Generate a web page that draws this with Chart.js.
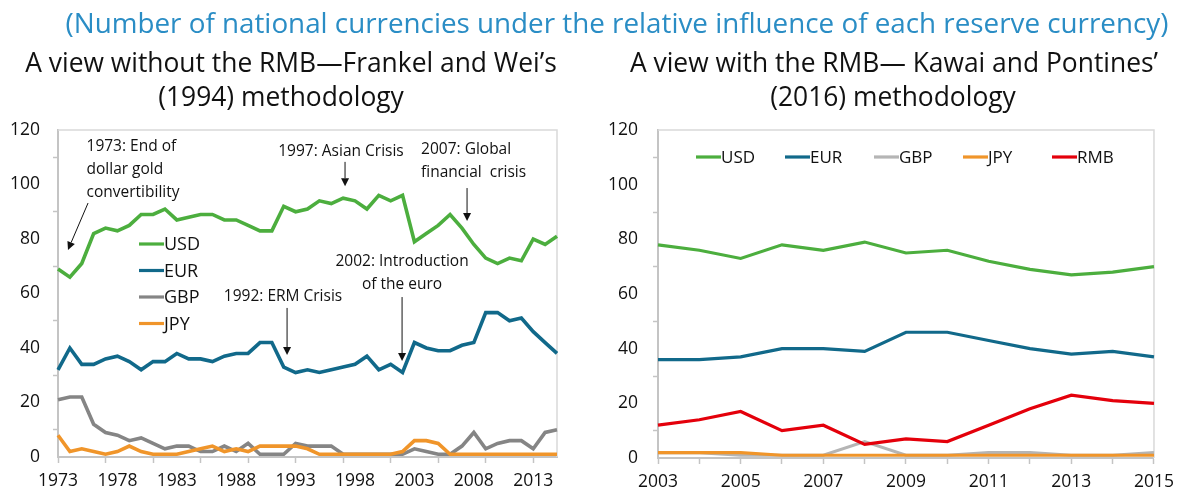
<!DOCTYPE html>
<html>
<head>
<meta charset="utf-8">
<script src="https://cdn.jsdelivr.net/npm/chart.js@4.4.1/dist/chart.umd.min.js"></script>
<style>
  body { margin: 0; width: 1182px; height: 495px; overflow: hidden; background: #fff; position: relative; font-family: "Open Sans", sans-serif; }
  .txt { position: absolute; white-space: nowrap; transform: translate(-50%, -50%); }
  #subtitle { left: 617px; top: 22px; font-size: 27.8px; color: #2a8dc5; }
  .ptitle { font-size: 26.4px; color: #111; }
  canvas { position: absolute; top: 0; }
</style>
</head>
<body>
<canvas id="leftChart" width="590" height="495" style="left:0"></canvas>
<canvas id="rightChart" width="592" height="495" style="left:590px"></canvas>
<div id="subtitle" class="txt">(Number of national currencies under the relative influence of each reserve currency)</div>
<div class="txt ptitle" style="left:291px; top:62px">A view without the RMB—Frankel and Wei’s</div>
<div class="txt ptitle" style="left:281px; top:96px">(1994) methodology</div>
<div class="txt ptitle" style="left:894px; top:62px">A view with the RMB— Kawai and Pontines’</div>
<div class="txt ptitle" style="left:893px; top:96px">(2016) methodology</div>
<script>
// Left panel: Frankel and Wei (1994), 1973-2015
const yearsA = ["1973","1974","1975","1976","1977","1978","1979","1980","1981","1982",
  "1983","1984","1985","1986","1987","1988","1989","1990","1991","1992",
  "1993","1994","1995","1996","1997","1998","1999","2000","2001","2002",
  "2003","2004","2005","2006","2007","2008","2009","2010","2011","2012",
  "2013","2014","2015"];
const usdA = [69,66,71,82,84,83,85,89,89,91,87,88,89,89,87,87,85,83,83,92,90,
  91,94,93,95,94,91,96,94,96,79,82,85,89,84,78,73,71,73,72,80,78,81];
const eurA = [32,40,34,34,36,37,35,32,35,35,38,36,36,35,37,38,38,42,42,33,31,
  32,31,32,33,34,37,32,34,31,42,40,39,39,41,42,53,53,50,51,46,42,38];
const gbpA = [21,22,22,12,9,8,6,7,5,3,4,4,2,2,4,2,5,1,1,1,5,
  4,4,4,1,1,1,1,1,1,3,2,1,1,4,9,3,5,6,6,3,9,10];
const jpyA = [8,2,3,2,1,2,4,2,1,1,1,2,3,4,2,3,2,4,4,4,4,
  3,1,1,1,1,1,1,1,2,6,6,5,1,1,1,1,1,1,1,1,1,1];

// Right panel: Kawai and Pontines (2016), 2003-2015
const yearsB = ["2003","2004","2005","2006","2007","2008","2009","2010","2011","2012","2013","2014","2015"];
const usdB = [78,76,73,78,76,79,75,76,72,69,67,68,70];
const eurB = [36,36,37,40,40,39,46,46,43,40,38,39,37];
const gbpB = [2,2,1,1,1,6,1,1,2,2,1,1,2];
const jpyB = [2,2,2,1,1,1,1,1,1,1,1,1,1];
const rmbB = [12,14,17,10,12,5,7,6,12,18,23,21,20];

const yTicks = [0, 20, 40, 60, 80, 100, 120];

// annotations on the left panel, anchored in data units (year, value)
const notesA = [
  { lines: ["1973: End of", "dollar gold", "convertibility"], at: [1975.4, 113.8], align: "left", from: [1975.53, 93.2], to: [1973.84, 76.0] },
  { lines: ["1997: Asian Crisis"], at: [1996.82, 111.9], align: "center", from: [1997.16, 108.3], to: [1997.16, 99.4] },
  { lines: ["2007: Global", "financial  crisis"], at: [2003.56, 112.7], align: "left", from: [2007.43, 98.7], to: [2007.43, 86.6] },
  { lines: ["2002: Introduction", "of the euro"], at: [2001.96, 71.6], align: "center", from: [2001.96, 58.7], to: [2001.96, 35.2] },
  { lines: ["1992: ERM Crisis"], at: [1991.94, 58.7], align: "center", from: [1992.28, 54.7], to: [1992.28, 37.4] }
];

const GREEN = "#4cae3e", BLUE = "#11698a", GREY = "#858585", LIGHTGREY = "#b5b5b5", ORANGE = "#f0952a", RED = "#e4000b";
const FONT = '"Open Sans", sans-serif';

function series(label, data, color, width, order) {
  return { label: label, data: data, borderColor: color, backgroundColor: color, borderWidth: width,
    pointRadius: 0, pointHoverRadius: 0, tension: 0, fill: false, order: order };
}

// gray frame on top and right of the plot area
const framePlugin = {
  id: "frame",
  beforeDatasetsDraw(chart) {
    const a = chart.chartArea, c = chart.ctx;
    c.save();
    c.strokeStyle = "#d9d9d9";
    c.lineWidth = 1.5;
    c.beginPath();
    c.moveTo(a.left, a.top);
    c.lineTo(a.right, a.top);
    c.lineTo(a.right, a.bottom);
    c.stroke();
    c.restore();
  }
};

function legendPlugin(layout) {
  return {
    id: "customLegend",
    afterDatasetsDraw(chart) {
      const c = chart.ctx, a = chart.chartArea;
      c.save();
      c.font = layout.size + "px " + FONT;
      c.textBaseline = "middle";
      chart.data.datasets.forEach(function(ds, i) {
        const x = a.left + layout.x + (layout.horizontal ? i * layout.step : 0);
        const y = a.top + layout.y + (layout.horizontal ? 0 : i * layout.step);
        c.strokeStyle = ds.borderColor;
        c.lineWidth = 3.2;
        c.beginPath();
        c.moveTo(x, y);
        c.lineTo(x + 25, y);
        c.stroke();
        c.fillStyle = "#111";
        c.fillText(ds.label, x + 25, y + 1);
      });
      c.restore();
    }
  };
}

function drawArrow(c, x1, y1, x2, y2) {
  const ang = Math.atan2(y2 - y1, x2 - x1), len = 8, half = 4;
  c.beginPath();
  c.moveTo(x1, y1);
  c.lineTo(x2 - Math.cos(ang) * len, y2 - Math.sin(ang) * len);
  c.stroke();
  c.beginPath();
  c.moveTo(x2, y2);
  c.lineTo(x2 - Math.cos(ang) * len + Math.sin(ang) * half, y2 - Math.sin(ang) * len - Math.cos(ang) * half);
  c.lineTo(x2 - Math.cos(ang) * len - Math.sin(ang) * half, y2 - Math.sin(ang) * len + Math.cos(ang) * half);
  c.closePath();
  c.fill();
}

const notesPlugin = {
  id: "notes",
  afterDatasetsDraw(chart) {
    const c = chart.ctx, xs = chart.scales.x, ys = chart.scales.y;
    const first = parseInt(chart.data.labels[0], 10);
    const px = function(yr) { return xs.getPixelForValue(yr - first); };
    c.save();
    c.font = "15.5px " + FONT;
    c.fillStyle = "#111";
    c.strokeStyle = "#111";
    c.lineWidth = 1;
    c.textBaseline = "middle";
    notesA.forEach(function(n) {
      c.textAlign = n.align;
      n.lines.forEach(function(t, i) {
        c.fillText(t, px(n.at[0]), ys.getPixelForValue(n.at[1]) + i * 23);
      });
      drawArrow(c, px(n.from[0]), ys.getPixelForValue(n.from[1]), px(n.to[0]), ys.getPixelForValue(n.to[1]));
    });
    c.restore();
  }
};

function makeOptions(yWidth, xHeight, padRight, labelPad, xLabelEvery, xTickEvery) {
  return {
    responsive: false,
    animation: false,
    devicePixelRatio: 1,
    layout: { padding: { top: 130, right: padRight, left: 0, bottom: 0 } },
    plugins: { legend: { display: false }, tooltip: { enabled: false } },
    scales: {
      x: {
        type: "category",
        offset: false,
        afterFit(scale) { scale.height = xHeight; },
        border: { color: "#c4c4c4", width: 2 },
        grid: {
          drawOnChartArea: false, drawTicks: true, tickLength: 6, tickWidth: 1.5,
          tickColor: function(ctx) { return ctx.index % xTickEvery === 0 ? "#c4c4c4" : "rgba(0,0,0,0)"; }
        },
        ticks: {
          autoSkip: false, maxRotation: 0, minRotation: 0, padding: 8,
          color: "#111", font: { family: FONT, size: 17.5 },
          callback: function(v, i) { return i % xLabelEvery === 0 ? this.getLabelForValue(v) : ""; }
        }
      },
      y: {
        min: 0, max: 120,
        afterFit(scale) { scale.width = yWidth; },
        afterBuildTicks(scale) {
          scale.ticks = [];
          for (let v = 0; v <= 120; v += 10) scale.ticks.push({ value: v });
        },
        border: { color: "#c4c4c4", width: 2 },
        grid: {
          drawOnChartArea: false, drawTicks: true, tickLength: 5, tickWidth: 1.5,
          tickColor: function(ctx) { return ctx.tick && yTicks.indexOf(ctx.tick.value) < 0 ? "#c4c4c4" : "rgba(0,0,0,0)"; }
        },
        ticks: {
          padding: labelPad, color: "#111", font: { family: FONT, size: 17.5 },
          callback: function(v) { return yTicks.indexOf(v) >= 0 ? v : ""; }
        }
      }
    }
  };
}

new Chart(document.getElementById("leftChart"), {
  type: "line",
  data: {
    labels: yearsA,
    datasets: [
      series("USD", usdA, GREEN, 3.6, 4),
      series("EUR", eurA, BLUE, 3.6, 3),
      series("GBP", gbpA, GREY, 3.6, 2),
      series("JPY", jpyA, ORANGE, 3.6, 1)
    ]
  },
  options: makeOptions(58, 38, 33, 13, 5, 4),
  plugins: [framePlugin, legendPlugin({ x: 81, y: 114, step: 26.5, size: 18, horizontal: false }), notesPlugin]
});

new Chart(document.getElementById("rightChart"), {
  type: "line",
  data: {
    labels: yearsB,
    datasets: [
      series("USD", usdB, GREEN, 3.2, 5),
      series("EUR", eurB, BLUE, 3.2, 4),
      series("GBP", gbpB, LIGHTGREY, 3.2, 3),
      series("JPY", jpyB, ORANGE, 3.2, 2),
      series("RMB", rmbB, RED, 3.2, 1)
    ]
  },
  options: makeOptions(68, 37, 28, 15, 2, 1),
  plugins: [framePlugin, legendPlugin({ x: 38, y: 27, step: 89, size: 17, horizontal: true })]
});
</script>
</body>
</html>
